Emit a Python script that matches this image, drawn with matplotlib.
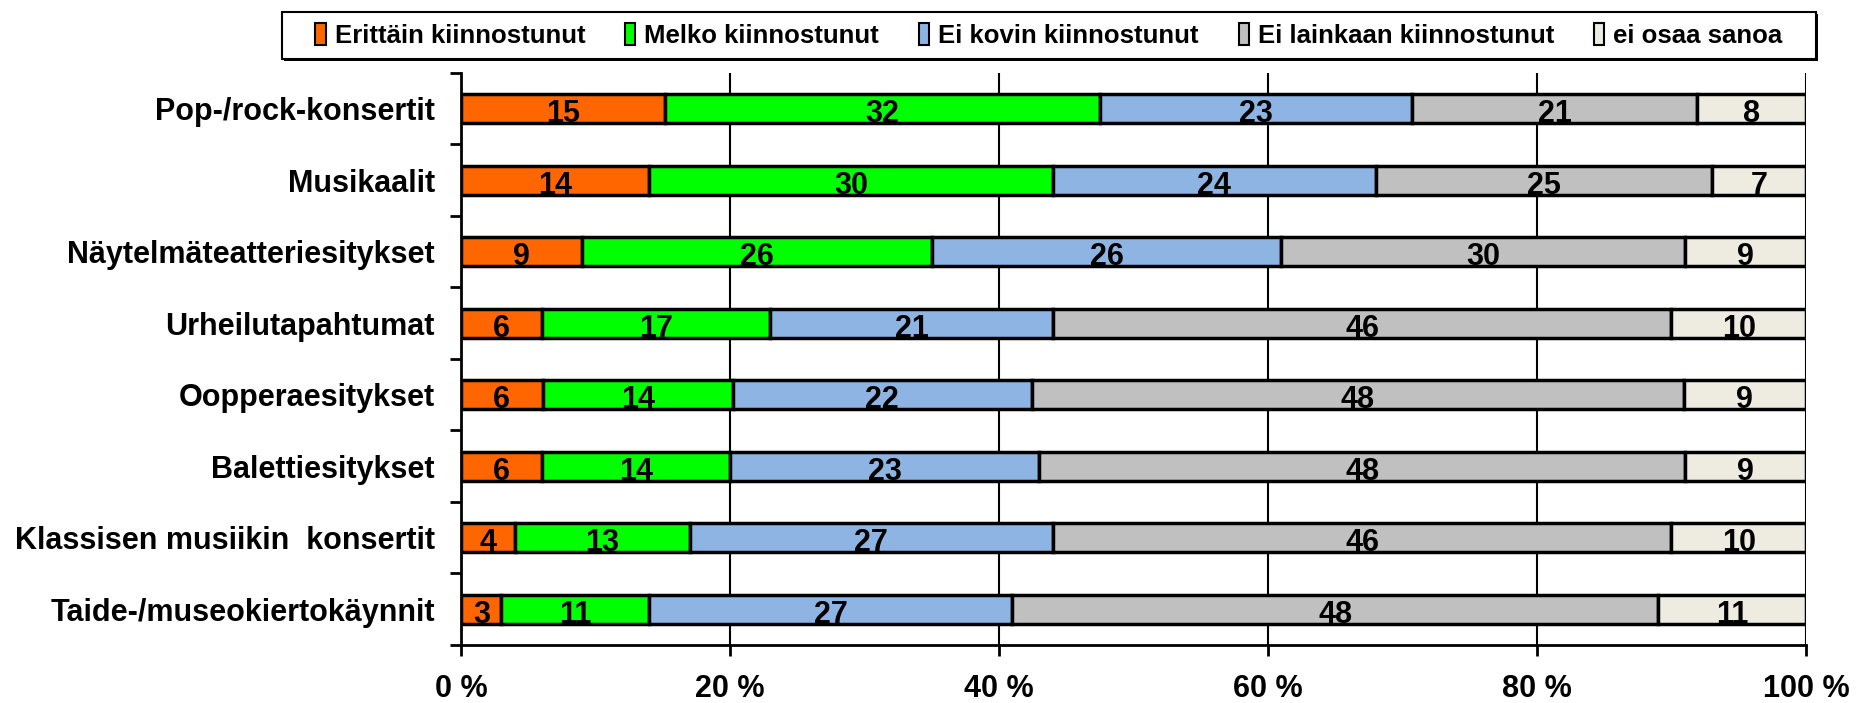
import numpy as np
import matplotlib
matplotlib.use("Agg")
import matplotlib.pyplot as plt
from matplotlib.patches import Patch, Rectangle

plt.rcParams["font.family"] = ["Liberation Sans", "DejaVu Sans"]
plt.rcParams["font.weight"] = "bold"

# Tiedot (prosentteja)
kategoriat = ["Pop-/rock-konsertit", "Musikaalit", "Näytelmäteatteriesitykset",
              "Urheilutapahtumat", "Oopperaesitykset", "Balettiesitykset",
              "Klassisen musiikin  konsertit", "Taide-/museokiertokäynnit"]
sarjat = ["Erittäin kiinnostunut", "Melko kiinnostunut", "Ei kovin kiinnostunut",
          "Ei lainkaan kiinnostunut", "ei osaa sanoa"]
erittain = [15, 14, 9, 6, 6, 6, 4, 3]
melko = [32, 30, 26, 17, 14, 14, 13, 11]
ei_kovin = [23, 24, 26, 21, 22, 23, 27, 27]
ei_lainkaan = [21, 25, 30, 46, 48, 48, 46, 48]
eos = [8, 7, 9, 10, 9, 9, 10, 11]
varit = ["#FF6600", "#00FF00", "#8DB4E2", "#C0C0C0", "#EEECE1"]

arvot = np.array([erittain, melko, ei_kovin, ei_lainkaan, eos], dtype=float)
osuudet = arvot / arvot.sum(axis=0) * 100  # 100 % pinottu

fig = plt.figure(figsize=(18.57, 7.03), dpi=100)
ax = fig.add_axes([0.2483, 0.0825, 0.9725 - 0.2483, 0.8962 - 0.0825])

y = np.arange(len(kategoriat))
vasen = np.zeros(len(kategoriat))
for i in range(len(sarjat)):
    ax.barh(y, osuudet[i], left=vasen, height=0.40, color=varit[i],
            edgecolor="black", linewidth=2.5, zorder=3)
    for j in range(len(kategoriat)):
        ax.text(vasen[j] + osuudet[i][j] / 2, y[j] + 0.08, str(int(arvot[i][j])),
                ha="center", va="center", fontsize=22, fontweight="bold", zorder=4)
    vasen += osuudet[i]

ax.set_xlim(0, 100)
ax.set_ylim(len(kategoriat) - 0.5, -0.5)
ax.set_xticks([0, 20, 40, 60, 80, 100])
ax.set_xticklabels([f"{v} %" for v in [0, 20, 40, 60, 80, 100]], fontsize=22, fontweight="bold")
ax.set_yticks(y)
ax.set_yticklabels(kategoriat, fontsize=22, fontweight="bold")
ax.set_yticks(np.arange(-0.5, len(kategoriat)), minor=True)
ax.tick_params(axis="y", which="major", length=0, pad=19)
ax.tick_params(axis="y", which="minor", length=8, width=2, direction="out")
ax.tick_params(axis="x", length=8, width=2, pad=13)
ax.xaxis.grid(True, color="black", linewidth=1.5, zorder=0)
ax.set_axisbelow(True)
for s in ["top", "right"]:
    ax.spines[s].set_visible(False)
for s in ["left", "bottom"]:
    ax.spines[s].set_linewidth(2)

# legendan kehys varjon kanssa
W, H = 1857, 703
x0, x1, y0, y1 = 282, 1816, 12, 59
fig.patches.append(Rectangle(((x0 + 2) / W, 1 - (y1 + 2) / H), (x1 - x0) / W, (y1 - y0) / H,
                             transform=fig.transFigure, facecolor="black", edgecolor="none", zorder=5))
fig.patches.append(Rectangle((x0 / W, 1 - y1 / H), (x1 - x0) / W, (y1 - y0) / H,
                             transform=fig.transFigure, facecolor="white", edgecolor="black",
                             linewidth=1.5, zorder=6))

kahvat = [Patch(facecolor=c, edgecolor="black", linewidth=1.5) for c in varit]
leg = fig.legend(kahvat, sarjat, loc="center", bbox_to_anchor=((x0 + x1) / 2 / W, 1 - (y0 + y1) / 2 / H),
                 ncol=5, fontsize=18.5, frameon=False,
                 handlelength=0.4, handleheight=0.9, handletextpad=0.35,
                 columnspacing=1.55, borderpad=0.4)
leg.set_zorder(7)
for t in leg.get_texts():
    t.set_fontweight("bold")

fig.savefig("out.png", dpi=100)
